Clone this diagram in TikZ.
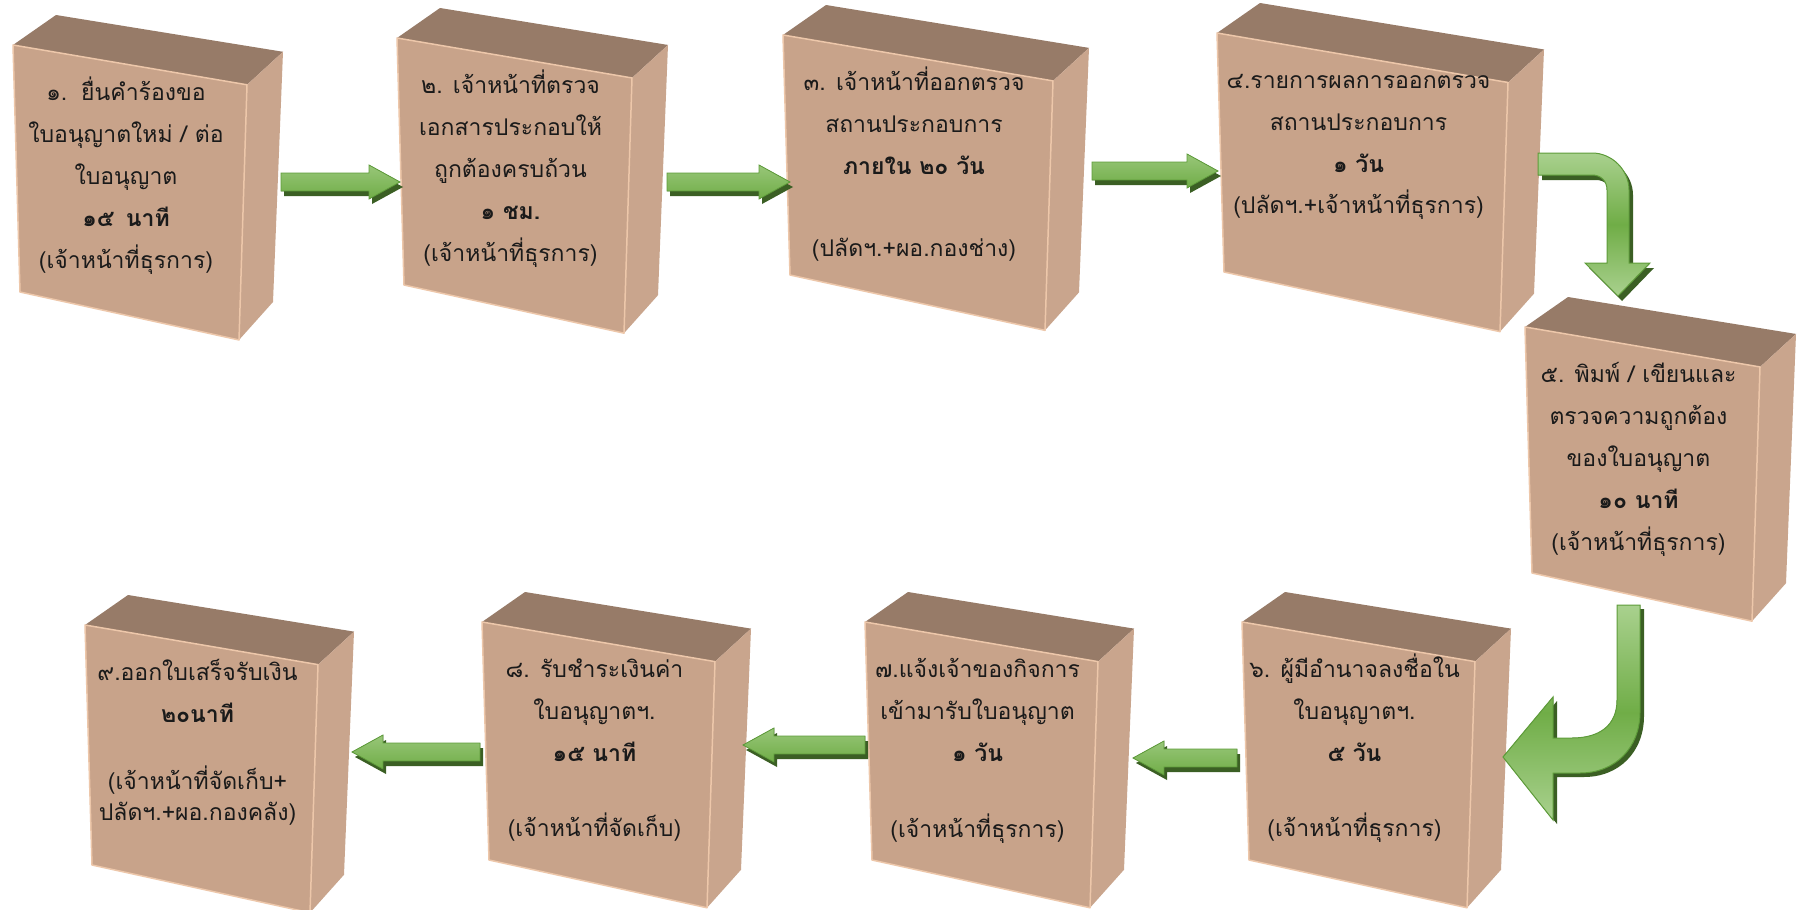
\documentclass[tikz,border=0pt]{standalone}
\usepackage{fontspec}
\newfontfamily\thaifont[Script=Thai]{Loma}
\usetikzlibrary{calc}
\definecolor{frontc}{HTML}{C8A38A}
\definecolor{topc}{HTML}{977B68}
\definecolor{sidec}{HTML}{C9A58D}
\definecolor{edgec}{HTML}{EDC7AA}
\definecolor{txt}{HTML}{1A1A1A}
\definecolor{gl}{HTML}{A9D18E}
\definecolor{gm}{HTML}{70AD47}
\definecolor{gd}{HTML}{3B5F24}
\definecolor{gb}{HTML}{5E9C3A}
\tikzset{
  boxtext/.style={anchor=base, inner sep=0pt, text=txt, font=\thaifont\fontsize{23}{42}\selectfont},
  topface/.style={fill=topc},
  sideface/.style={fill=sidec},
  frontface/.style={fill=frontc, draw=edgec, line width=1.5pt, line join=round},
  arrowbody/.style={top color=gl!70!gm, bottom color=gm, draw=gb, line width=0.8pt},
  bentbody/.style={top color=gl, bottom color=gl, middle color=gm, draw=gb, line width=1pt},
  arrowshadow/.style={fill=gd},
}
\newcommand{\cubebox}[6]{%
  \coordinate (#1-tl) at (#2,#3);
  \coordinate (#1-tr) at ($(#1-tl)+(#4,{0.17*#4})$);
  \coordinate (#1-br) at ($(#1-tl)+({#4-8},{#5+0.205*#4})$);
  \coordinate (#1-bl) at ($(#1-tl)+(7,#5)$);
  \coordinate (#1-btl) at ($(#1-tl)+(43,-30)$);
  \coordinate (#1-btr) at ($(#1-tr)+(36,-33)$);
  \coordinate (#1-bbr) at ($(#1-br)+(34,-38)$);
  \fill[topface] (#1-tl) -- (#1-btl) -- (#1-btr) -- (#1-tr) -- cycle;
  \fill[sideface] (#1-tr) -- (#1-btr) -- (#1-bbr) -- (#1-br) -- cycle;
  \filldraw[frontface] (#1-tl) -- (#1-tr) -- (#1-br) -- (#1-bl) -- cycle;
  \node[boxtext] (#1) at ($(#1-tl)+({#4/2-4},55)$) {\begin{tabular}[t]{@{}c@{}}#6\end{tabular}};
}
\newcommand{\sarrowpath}[3]{let \p1=(#1), \p2=(#2) in
  (\x1,\y1+9pt) -- ({\x2-(#3)*31pt},\y1+9pt) -- ({\x2-(#3)*31pt},\y1+17pt) -- (\x2,\y1)
  -- ({\x2-(#3)*31pt},\y1-17pt) -- ({\x2-(#3)*31pt},\y1-9pt) -- (\x1,\y1-9pt) -- cycle}
\newcommand{\sarrow}[3]{%
  \fill[arrowshadow, transform canvas={shift={(3pt,-5pt)}}] \sarrowpath{#1}{#2}{#3};
  \filldraw[arrowbody] \sarrowpath{#1}{#2}{#3};
}
\begin{document}
\begin{tikzpicture}[x=1pt, y=-1pt]
\fill[white] (0,0) rectangle (1800,910);
\useasboundingbox (0,0) rectangle (1800,910);

\cubebox{b1}{13}{45}{234}{247}{๑.\hspace{0.6em}ยื่นคำร้องขอ\\ใบอนุญาตใหม่ / ต่อ\\ใบอนุญาต\\{\bfseries ๑๕\hspace{0.5em}นาที}\\(เจ้าหน้าที่ธุรการ)}
\cubebox{b2}{397}{38}{235}{247}{๒. เจ้าหน้าที่ตรวจ\\เอกสารประกอบให้\\ถูกต้องครบถ้วน\\{\bfseries ๑ ชม.}\\(เจ้าหน้าที่ธุรการ)}
\cubebox{b3}{783}{35}{270}{240}{๓. เจ้าหน้าที่ออกตรวจ\\สถานประกอบการ\\{\bfseries ภายใน ๒๐ วัน}\\[40pt](ปลัดฯ.+ผอ.กองช่าง)}
\cubebox{b4}{1217}{33}{291}{239}{๔.รายการผลการออกตรวจ\\สถานประกอบการ\\{\bfseries ๑ วัน}\\(ปลัดฯ.+เจ้าหน้าที่ธุรการ)}
\cubebox{b5}{1525}{327}{235}{246}{๕. พิมพ์ / เขียนและ\\ตรวจความถูกต้อง\\ของใบอนุญาต\\{\bfseries ๑๐ นาที}\\(เจ้าหน้าที่ธุรการ)}
\cubebox{b6}{1242}{622}{233}{238}{๖. ผู้มีอำนาจลงชื่อใน\\ใบอนุญาตฯ.\\{\bfseries ๕ วัน}\\[33pt](เจ้าหน้าที่ธุรการ)}
\cubebox{b7}{865}{622}{233}{238}{๗.แจ้งเจ้าของกิจการ\\เข้ามารับใบอนุญาต\\{\bfseries ๑ วัน}\\[34pt](เจ้าหน้าที่ธุรการ)}
\cubebox{b8}{482}{622}{233}{238}{๘. รับชำระเงินค่า\\ใบอนุญาตฯ.\\{\bfseries ๑๕ นาที}\\[33pt](เจ้าหน้าที่จัดเก็บ)}
\cubebox{b9}{85}{625}{233}{240}{๙.ออกใบเสร็จรับเงิน\\{\bfseries ๒๐นาที}\\[25pt](เจ้าหน้าที่จัดเก็บ+\\[-11pt]ปลัดฯ.+ผอ.กองคลัง)}

% arrow end points
\coordinate (a12s) at (281,182);  \coordinate (a12t) at (400,182);
\coordinate (a23s) at (667,182);  \coordinate (a23t) at (790,182);
\coordinate (a34s) at (1092,171); \coordinate (a34t) at (1218,171);
\coordinate (a67s) at (1237,758); \coordinate (a67t) at (1133,758);
\coordinate (a78s) at (865,745);  \coordinate (a78t) at (743,745);
\coordinate (a89s) at (480,752);  \coordinate (a89t) at (352,752);
\coordinate (a45s) at (1538,153);
\coordinate (a56s) at (1617,605);

\sarrow{a12s}{a12t}{1}
\sarrow{a23s}{a23t}{1}
\sarrow{a34s}{a34t}{1}
\sarrow{a67s}{a67t}{-1}
\sarrow{a78s}{a78t}{-1}
\sarrow{a89s}{a89t}{-1}

% bent arrow 4 -> 5
\begin{scope}[shift={(a45s)}]
  \fill[arrowshadow, transform canvas={shift={(4pt,-5pt)}}] (0,0) -- (54,0) .. controls (74,0) and (91,17) .. (91,37) -- (91,110) -- (112,110) -- (80,143) -- (47,110) -- (69,110) -- (69,37) .. controls (69,28) and (63,22) .. (54,22) -- (0,22) -- cycle;
  \filldraw[bentbody] (0,0) -- (54,0) .. controls (74,0) and (91,17) .. (91,37) -- (91,110) -- (112,110) -- (80,143) -- (47,110) -- (69,110) -- (69,37) .. controls (69,28) and (63,22) .. (54,22) -- (0,22) -- cycle;
\end{scope}
% bent arrow 5 -> 6
\begin{scope}[shift={(a56s)}]
  \fill[arrowshadow, transform canvas={shift={(4pt,-4pt)}}] (0,0) -- (23,0) -- (23,107) .. controls (23,143) and (-2,168) .. (-37,168) -- (-64,168) -- (-64,215) -- (-114,152) -- (-64,92) -- (-64,133) -- (-45,133) .. controls (-17,133) and (0,120) .. (0,95) -- cycle;
  \filldraw[bentbody] (0,0) -- (23,0) -- (23,107) .. controls (23,143) and (-2,168) .. (-37,168) -- (-64,168) -- (-64,215) -- (-114,152) -- (-64,92) -- (-64,133) -- (-45,133) .. controls (-17,133) and (0,120) .. (0,95) -- cycle;
\end{scope}
\end{tikzpicture}
\end{document}
